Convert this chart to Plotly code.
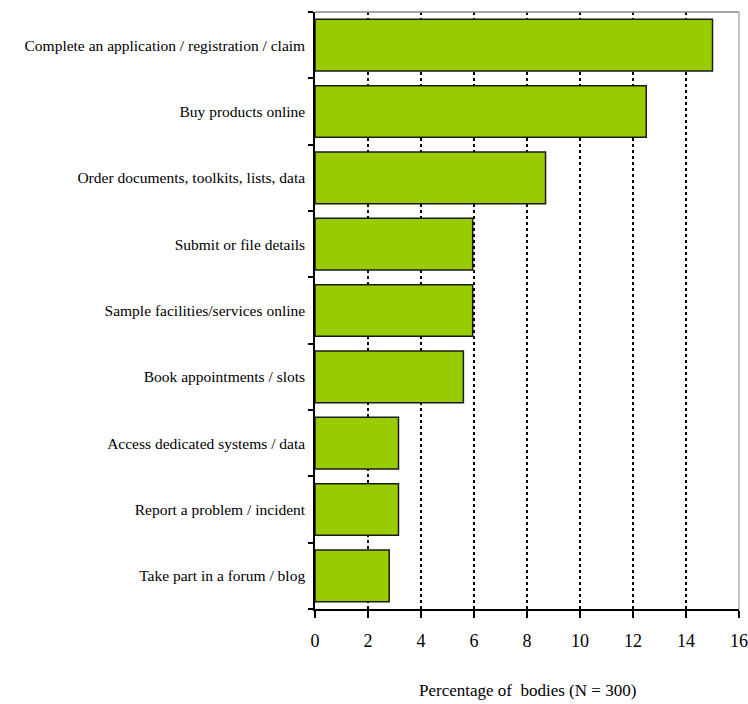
import plotly.graph_objects as go

categories = [
    "Complete an application / registration / claim",
    "Buy products online",
    "Order documents, toolkits, lists, data",
    "Submit or file details",
    "Sample facilities/services online",
    "Book appointments / slots",
    "Access dedicated systems / data",
    "Report a problem / incident",
    "Take part in a forum / blog",
]
values = [15.0, 12.5, 8.7, 5.95, 5.95, 5.6, 3.15, 3.15, 2.8]
x_ticks = [0, 2, 4, 6, 8, 10, 12, 14, 16]
x_title = "Percentage of  bodies (N = 300)"

FONT = "Times New Roman, Liberation Serif, serif"

fig = go.Figure(
    go.Bar(
        x=values,
        y=categories,
        orientation="h",
        marker=dict(color="#99CC00", line=dict(color="#1a1a1a", width=1.5)),
        hoverinfo="skip",
    )
)

fig.update_layout(
    width=748,
    height=704,
    margin=dict(l=315, r=9, t=12, b=95),
    paper_bgcolor="white",
    plot_bgcolor="white",
    bargap=0.22,
    showlegend=False,
    font=dict(family=FONT, color="black", size=16),
    xaxis=dict(
        range=[0, 16],
        tickvals=x_ticks,
        ticktext=[str(t) for t in x_ticks],
        ticks="outside",
        ticklen=7,
        tickwidth=1.5,
        tickcolor="black",
        showline=True,
        linecolor="black",
        linewidth=1.5,
        showgrid=True,
        gridcolor="black",
        gridwidth=2,
        griddash="3px,3px",
        zeroline=False,
        automargin=False,
        ticklabeloverflow="allow",
        tickfont=dict(family=FONT, size=18),
        ticklabelstandoff=8,
    ),
    yaxis=dict(
        categoryorder="array",
        categoryarray=categories[::-1],
        tickson="boundaries",
        ticks="outside",
        ticklen=5,
        tickwidth=1.5,
        tickcolor="black",
        showline=True,
        linecolor="black",
        linewidth=1.5,
        showgrid=False,
        zeroline=False,
        automargin=False,
        tickfont=dict(family=FONT, size=15.5),
        ticklabelstandoff=5,
    ),
    annotations=[
        dict(text=x_title, xref="paper", yref="paper", x=0.5, y=-0.1357,
             xanchor="center", yanchor="middle", showarrow=False,
             font=dict(family=FONT, size=17)),
    ],
)

fig.add_shape(type="line", xref="paper", yref="paper", x0=0, x1=1, y0=1, y1=1,
              line=dict(color="#888888", width=1.5))
fig.add_shape(type="line", xref="paper", yref="paper", x0=1, x1=1, y0=0, y1=1,
              line=dict(color="#888888", width=1))

fig.write_html(
    "out.html",
    config={"displayModeBar": False},
    post_script="document.body.style.margin='0';document.documentElement.style.overflow='hidden';",
)
